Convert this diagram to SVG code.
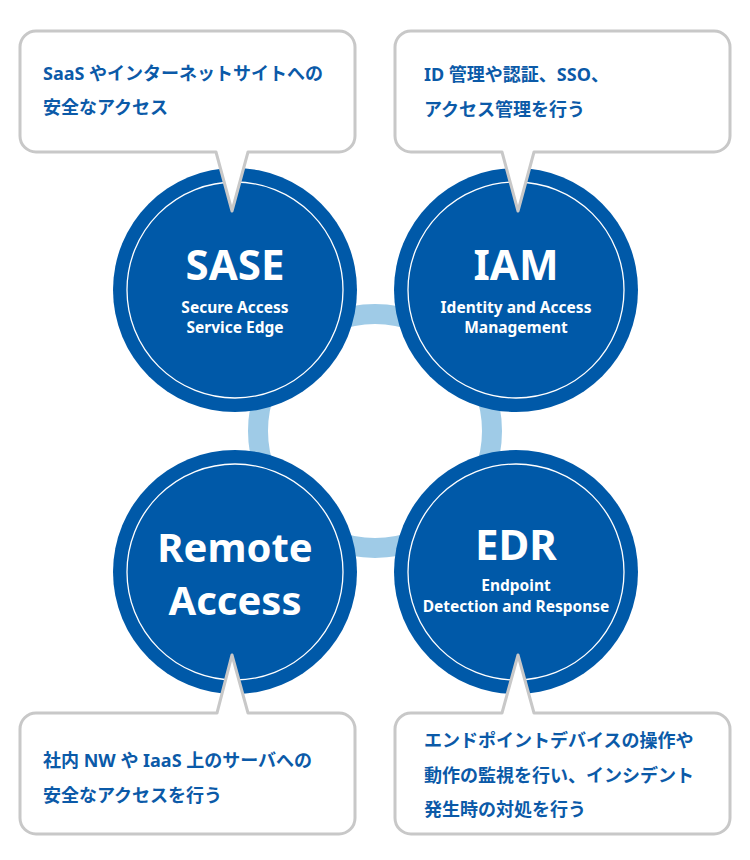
<svg xmlns="http://www.w3.org/2000/svg" width="750" height="860" viewBox="0 0 750 860">
<style>
.ring{fill:none;stroke:#9fcbe7;stroke-width:20}
.disc{fill:#0059a8}
.inner{fill:none;stroke:#ffffff;stroke-width:1.3}
.title{font-family:"Noto Sans","Open Sans",sans-serif;font-weight:700;font-size:42px;fill:#ffffff;text-anchor:middle}
.big{font-size:40px}
.sub{font-family:"Noto Sans","Open Sans",sans-serif;font-weight:700;font-size:15.5px;fill:#ffffff;text-anchor:middle}
.bubble{fill:#ffffff;stroke:#c8c8c8;stroke-width:3;stroke-linejoin:round}
.desc{font-family:"Noto Sans","Noto Sans CJK JP",sans-serif;font-weight:700;font-size:18px;fill:#0b5aa8}
</style>
<rect width="750" height="860" fill="#ffffff"/>
<g id="connectors">
<circle class="ring" cx="375" cy="431" r="117"/>
</g>
<g id="sase">
<circle class="disc" cx="235" cy="290" r="122"/>
<circle class="inner" cx="235" cy="290" r="108"/>
<text class="title" x="235" y="280">SASE</text>
<text class="sub" x="235" y="313">Secure Access</text>
<text class="sub" x="235" y="333">Service Edge</text>
</g>
<g id="iam">
<circle class="disc" cx="516" cy="290" r="122"/>
<circle class="inner" cx="516" cy="290" r="108"/>
<text class="title" x="516" y="280">IAM</text>
<text class="sub" x="516" y="313">Identity and Access</text>
<text class="sub" x="516" y="333">Management</text>
</g>
<g id="remote">
<circle class="disc" cx="235" cy="572" r="122"/>
<circle class="inner" cx="235" cy="572" r="108"/>
<text class="title big" x="235" y="562">Remote</text>
<text class="title big" x="235" y="615">Access</text>
</g>
<g id="edr">
<circle class="disc" cx="516" cy="572" r="122"/>
<circle class="inner" cx="516" cy="572" r="108"/>
<text class="title" x="516" y="560">EDR</text>
<text class="sub" x="516" y="591">Endpoint</text>
<text class="sub" x="516" y="612">Detection and Response</text>
</g>
<g id="callout-sase">
<path class="bubble" d="M36,31 H339 A16,16 0 0 1 355,47 V136 A16,16 0 0 1 339,152 H248 L232,211 L216,152 H36 A16,16 0 0 1 20,136 V47 A16,16 0 0 1 36,31 Z"/>
<text class="desc" x="43" y="80">SaaS やインターネットサイトへの</text>
<text class="desc" x="43" y="114">安全なアクセス</text>
</g>
<g id="callout-iam">
<path class="bubble" d="M411,31 H714 A16,16 0 0 1 730,47 V136 A16,16 0 0 1 714,152 H534 L518,211 L502,152 H411 A16,16 0 0 1 395,136 V47 A16,16 0 0 1 411,31 Z"/>
<text class="desc" x="424" y="81">ID 管理や認証、SSO、</text>
<text class="desc" x="424" y="116">アクセス管理を行う</text>
</g>
<g id="callout-remote">
<path class="bubble" d="M36,713 H217 L232,655 L248,713 H339 A16,16 0 0 1 355,729 V818 A16,16 0 0 1 339,834 H36 A16,16 0 0 1 20,818 V729 A16,16 0 0 1 36,713 Z"/>
<text class="desc" x="43" y="767">社内 NW や IaaS 上のサーバへの</text>
<text class="desc" x="43" y="802">安全なアクセスを行う</text>
</g>
<g id="callout-edr">
<path class="bubble" d="M411,713 H502 L518,655 L534,713 H714 A16,16 0 0 1 730,729 V818 A16,16 0 0 1 714,834 H411 A16,16 0 0 1 395,818 V729 A16,16 0 0 1 411,713 Z"/>
<text class="desc" x="424" y="747">エンドポイントデバイスの操作や</text>
<text class="desc" x="424" y="782">動作の監視を行い、インシデント</text>
<text class="desc" x="424" y="816">発生時の対処を行う</text>
</g>
</svg>
